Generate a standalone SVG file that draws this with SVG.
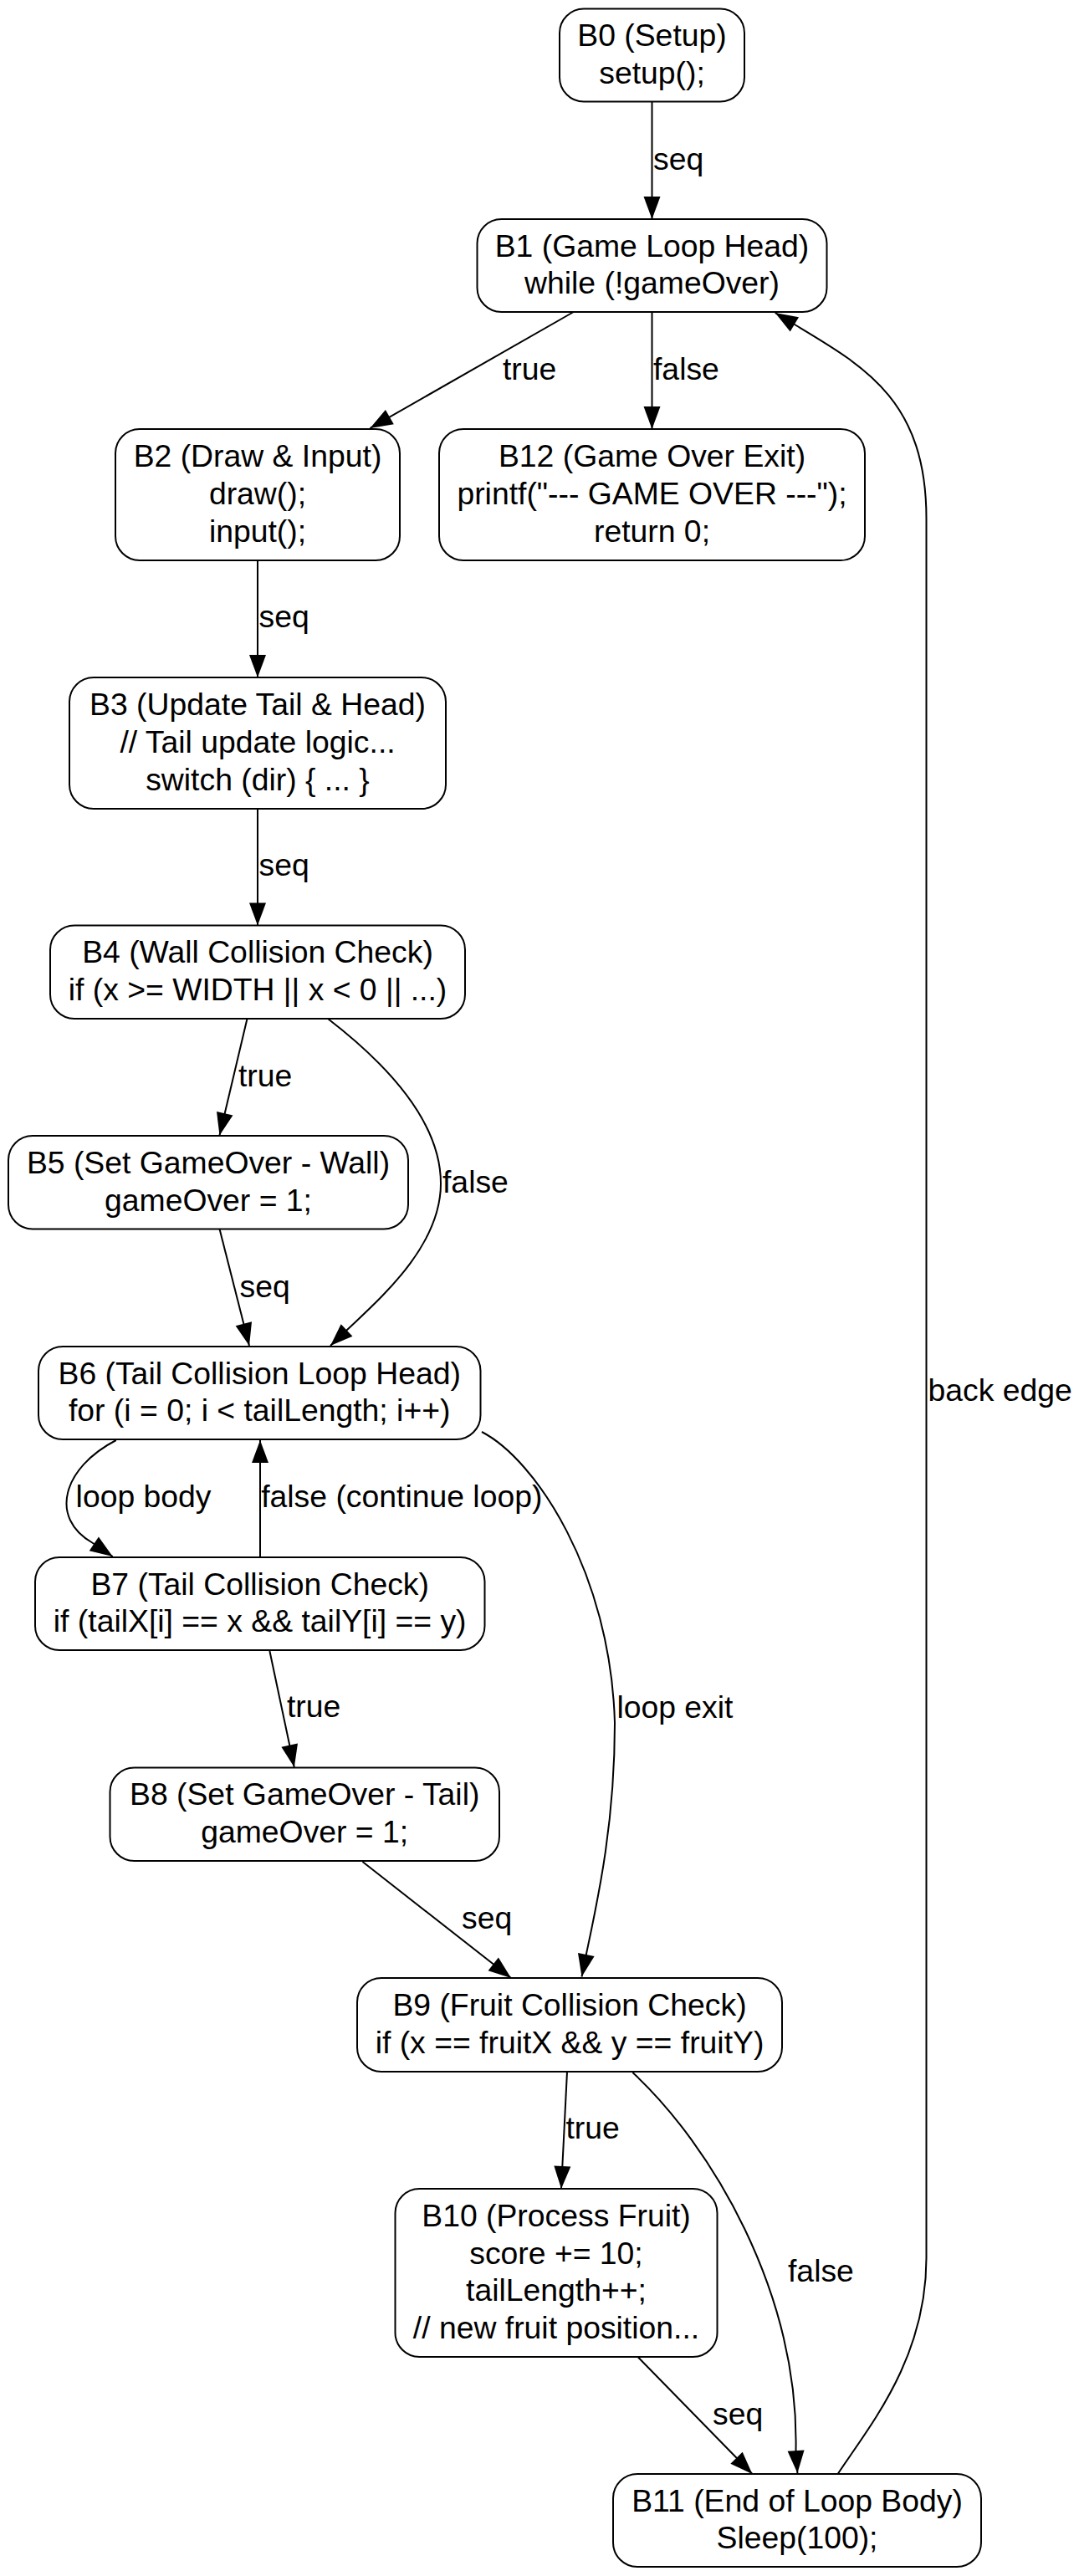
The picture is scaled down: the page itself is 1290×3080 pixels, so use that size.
<svg xmlns="http://www.w3.org/2000/svg" width="1290" height="3080" viewBox="0 0 1290 3080">
<style>
.n rect{fill:#fff;stroke:#000;stroke-width:2}
.n text,.lbl{font-family:"Liberation Sans",Arial,Helvetica,sans-serif;font-size:37.33px;fill:#000}
.n text{text-anchor:middle}
.e path{fill:none;stroke:#000;stroke-width:2;marker-end:url(#ah)}
</style>
<defs>
<marker id="ah" markerUnits="userSpaceOnUse" markerWidth="28" markerHeight="20" refX="27" refY="10" orient="auto" viewBox="0 0 28 20" overflow="visible">
<path d="M0,0 L27,10 L0,20 Z" fill="#000"/>
</marker>
</defs>
<rect width="1290" height="3080" fill="#fff"/>
<g id="edges" class="e">
<path d="M779.5,121.5 L779.5,262"/>
<path d="M685.7,373 L442.4,512"/>
<path d="M779.5,373 L779.5,513"/>
<path d="M1001.6,2958 C1040,2900 1107.5,2820 1107.5,2700 L1107.5,620 C1107.5,480 1035,439 952.5,389.5 L926.7,374"/>
<path d="M308,670 L308,810"/>
<path d="M308,967 L308,1106.5"/>
<path d="M295.5,1218 L262.5,1357.5"/>
<path d="M392,1218 C440,1255 527,1330 527,1415 C527,1490 455,1552 415,1590 L395,1609"/>
<path d="M262.5,1469.5 L298,1609"/>
<path d="M138.8,1722 C75,1755 58,1815 111,1845 L134.7,1861"/>
<path d="M311,1862 L311,1722"/>
<path d="M576,1712 C640,1745 730,1880 735,2060 C735,2180 715,2270 701,2336 L695.5,2363.5"/>
<path d="M322.4,1974 L351.8,2113"/>
<path d="M433.5,2226 L611,2365"/>
<path d="M678,2477 L671,2617"/>
<path d="M756.4,2478 C850,2565 955,2740 951.5,2929 L953.4,2957"/>
<path d="M763,2818.5 L899.4,2958"/>
<text class="lbl" x="781" y="203">seq</text>
<text class="lbl" x="601" y="454">true</text>
<text class="lbl" x="781" y="454">false</text>
<text class="lbl" x="1109.5" y="1675">back edge</text>
<text class="lbl" x="309.5" y="750">seq</text>
<text class="lbl" x="309.5" y="1047">seq</text>
<text class="lbl" x="285" y="1299">true</text>
<text class="lbl" x="529" y="1426">false</text>
<text class="lbl" x="286.6" y="1551">seq</text>
<text class="lbl" x="90.6" y="1802">loop body</text>
<text class="lbl" x="312.2" y="1802">false (continue loop)</text>
<text class="lbl" x="737.4" y="2054">loop exit</text>
<text class="lbl" x="343" y="2053">true</text>
<text class="lbl" x="552" y="2306">seq</text>
<text class="lbl" x="676.4" y="2557">true</text>
<text class="lbl" x="942" y="2728">false</text>
<text class="lbl" x="852" y="2899">seq</text>
</g>
<g id="B0" class="n"><rect x="669" y="10.5" width="221" height="111" rx="29"/><text x="779.5" y="55.1">B0 (Setup)</text><text x="779.5" y="99.9">setup();</text></g>
<g id="B1" class="n"><rect x="570.5" y="262" width="418" height="111" rx="29"/><text x="779.5" y="306.6">B1 (Game Loop Head)</text><text x="779.5" y="351.4">while (!gameOver)</text></g>
<g id="B12" class="n"><rect x="525" y="513" width="509" height="157" rx="29"/><text x="779.5" y="558.2">B12 (Game Over Exit)</text><text x="779.5" y="603">printf("--- GAME OVER ---");</text><text x="779.5" y="647.8">return 0;</text></g>
<g id="B2" class="n"><rect x="138" y="513" width="340" height="157" rx="29"/><text x="308" y="558.2">B2 (Draw &amp; Input)</text><text x="308" y="603">draw();</text><text x="308" y="647.8">input();</text></g>
<g id="B3" class="n"><rect x="83" y="810" width="450" height="157" rx="29"/><text x="308" y="855.2">B3 (Update Tail &amp; Head)</text><text x="308" y="900">// Tail update logic...</text><text x="308" y="944.8">switch (dir) { ... }</text></g>
<g id="B4" class="n"><rect x="60" y="1106.5" width="496" height="111.5" rx="29"/><text x="308" y="1151.4">B4 (Wall Collision Check)</text><text x="308" y="1196.2">if (x &gt;= WIDTH || x &lt; 0 || ...)</text></g>
<g id="B5" class="n"><rect x="10" y="1358" width="478" height="111.5" rx="29"/><text x="249" y="1402.9">B5 (Set GameOver - Wall)</text><text x="249" y="1447.7">gameOver = 1;</text></g>
<g id="B6" class="n"><rect x="46" y="1610" width="528.5" height="111" rx="29"/><text x="310.2" y="1654.6">B6 (Tail Collision Loop Head)</text><text x="310.2" y="1699.4">for (i = 0; i &lt; tailLength; i++)</text></g>
<g id="B7" class="n"><rect x="42" y="1862" width="537.5" height="111" rx="29"/><text x="310.7" y="1906.6">B7 (Tail Collision Check)</text><text x="310.7" y="1951.4">if (tailX[i] == x &amp;&amp; tailY[i] == y)</text></g>
<g id="B8" class="n"><rect x="131.5" y="2113.5" width="465.5" height="111.5" rx="29"/><text x="364.2" y="2158.4">B8 (Set GameOver - Tail)</text><text x="364.2" y="2203.2">gameOver = 1;</text></g>
<g id="B9" class="n"><rect x="427" y="2365" width="508" height="112" rx="29"/><text x="681" y="2410.1">B9 (Fruit Collision Check)</text><text x="681" y="2454.9">if (x == fruitX &amp;&amp; y == fruitY)</text></g>
<g id="B10" class="n"><rect x="472.5" y="2617" width="385" height="201" rx="29"/><text x="665" y="2661.8">B10 (Process Fruit)</text><text x="665" y="2706.6">score += 10;</text><text x="665" y="2751.4">tailLength++;</text><text x="665" y="2796.2">// new fruit position...</text></g>
<g id="B11" class="n"><rect x="733" y="2958" width="440" height="111" rx="29"/><text x="953" y="3002.6">B11 (End of Loop Body)</text><text x="953" y="3047.4">Sleep(100);</text></g>
</svg>
